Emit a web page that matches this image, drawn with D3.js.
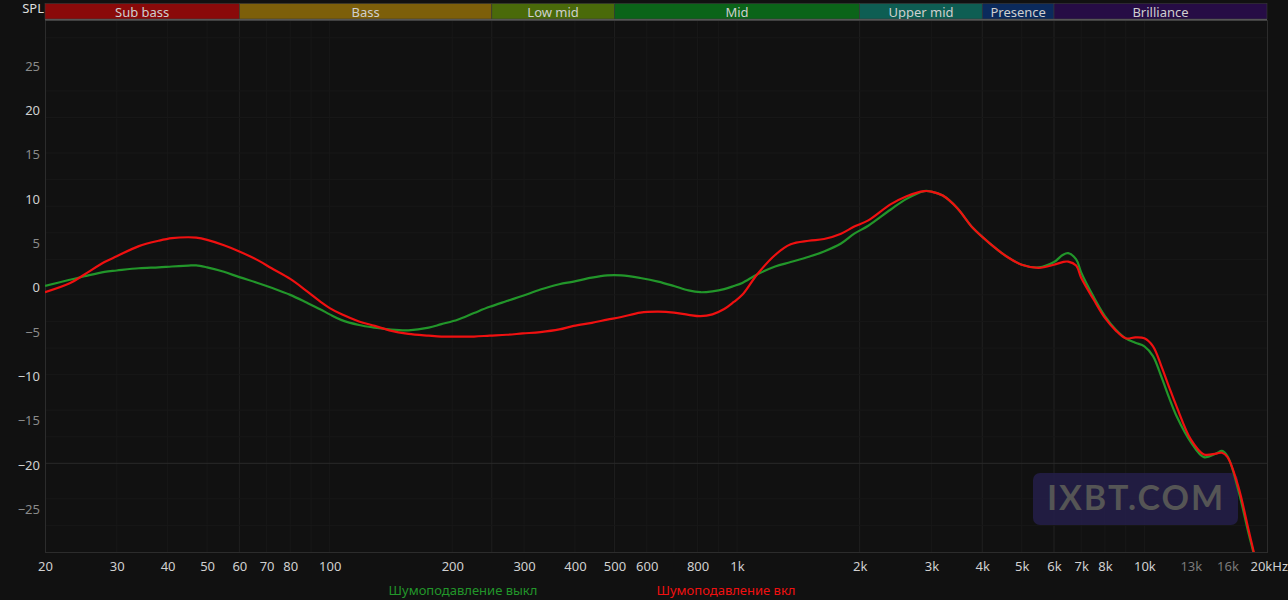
<!DOCTYPE html>
<html>
<head>
<meta charset="utf-8">
<script src="https://cdn.jsdelivr.net/npm/d3@7"></script>
<style>
  html, body { margin: 0; padding: 0; background: #111111; }
  svg { display: block; font-family: "Noto Sans", "Open Sans", sans-serif; }
</style>
</head>
<body>
<script>
// frequency points (Hz) shared by both curves
const freqs = [20, 23, 25, 28, 30, 34, 38, 41, 45, 47, 50, 55, 60, 66, 72, 80, 88, 95, 100, 107,
  118, 129, 140, 156, 175, 188, 206, 226, 247, 272, 298, 329, 366, 397, 440, 480, 520, 579,
  640, 700, 760, 813, 870, 930, 982, 1030, 1120, 1240, 1354, 1500, 1635, 1800, 1940, 2100,
  2380, 2600, 2880, 3000, 3200, 3470, 3800, 4200, 4600, 5000, 5500, 6000, 6300, 6500, 6800,
  7000, 7500, 8000, 8500, 9000, 9500, 10000, 10500, 11000, 11500, 12000, 13000, 14000,
  15000, 15500, 16000, 17000, 18000, 19000, 20000];

// ANC off (green)
const ancOff = [0.0, 0.7, 1.1, 1.6, 1.75, 2.0, 2.1, 2.2, 2.3, 2.33, 2.1, 1.6, 1.0, 0.4, -0.2, -1.0,
  -1.9, -2.65, -3.2, -3.85, -4.4, -4.7, -4.9, -5.0, -4.7, -4.3, -3.8, -3.05, -2.35, -1.7, -1.1,
  -0.4, 0.2, 0.5, 0.95, 1.2, 1.2, 0.9, 0.5, 0.0, -0.5, -0.7, -0.6, -0.35, 0.0, 0.35, 1.3, 2.2,
  2.7, 3.3, 3.9, 4.8, 5.9, 6.8, 8.6, 9.8, 10.7, 10.65, 10.2, 8.8, 6.5, 4.7, 3.3, 2.4, 2.1, 2.7,
  3.5, 3.7, 3.0, 1.5, -1.2, -3.4, -4.9, -5.9, -6.4, -6.8, -7.9, -10.2, -12.6, -14.7, -17.6,
  -19.3, -18.9, -18.6, -19.2, -23.0, -27.8, -32, -36];

// ANC on (red)
const ancOn = [-0.7, 0.3, 1.3, 2.7, 3.35, 4.5, 5.1, 5.4, 5.5, 5.45, 5.2, 4.6, 3.9, 3.0, 2.0, 0.8,
  -0.6, -1.8, -2.5, -3.2, -4.0, -4.5, -5.0, -5.4, -5.6, -5.7, -5.7, -5.7, -5.6, -5.5, -5.35,
  -5.2, -4.9, -4.5, -4.15, -3.8, -3.5, -3.0, -2.9, -3.0, -3.25, -3.4, -3.2, -2.6, -1.8, -1.0,
  1.3, 3.5, 4.7, 5.1, 5.3, 5.9, 6.7, 7.4, 9.2, 10.1, 10.7, 10.65, 10.2, 8.8, 6.5, 4.7, 3.3,
  2.4, 2.05, 2.4, 2.7, 2.75, 2.3, 0.9, -1.5, -3.6, -5.0, -5.9, -5.8, -5.9, -6.8, -9.0, -11.4,
  -13.6, -17.3, -19.0, -18.9, -18.8, -19.3, -22.6, -27.4, -32, -36];

const seriesNames = ["Шумоподавление выкл", "Шумоподавление вкл"];
const seriesColors = ["#22962a", "#f01010"];

// frequency bands on top
const bandNames = ["Sub bass", "Bass", "Low mid", "Mid", "Upper mid", "Presence", "Brilliance"];
const bandEdges = [20, 60, 250, 500, 2000, 4000, 6000, 20000];
const bandColors = ["#8a0a0a", "#7d5f0a", "#4a6a0a", "#0b6419", "#0e5e53", "#0b2a5c", "#260c45"];

// axis ticks
const xTicks = [20, 30, 40, 50, 60, 70, 80, 100, 200, 300, 400, 500, 600, 800, 1000, 2000, 3000,
  4000, 5000, 6000, 7000, 8000, 10000, 13000, 16000, 20000];
const xTickLabels = ["20", "30", "40", "50", "60", "70", "80", "100", "200", "300", "400", "500",
  "600", "800", "1k", "2k", "3k", "4k", "5k", "6k", "7k", "8k", "10k", "13k", "16k", "20kHz"];
const yTicks = [25, 20, 15, 10, 5, 0, -5, -10, -15, -20, -25];
const yGrid = [28, 22, 19, 15, 12, 9, 6, 3, -1, -4, -7, -10, -14, -17, -24, -27];

function main() {
  const width = 1288, height = 600;
  const left = 45, right = 1267, top = 20, bottom = 552;

  const svg = d3.select("body").append("svg")
    .attr("width", width)
    .attr("height", height);

  svg.append("rect").attr("width", width).attr("height", height).attr("fill", "#111111");

  const x = d3.scaleLog().domain([20, 20000]).range([left, right]);
  const y = d3.scaleLinear().domain([-30, 30]).range([bottom, top]);

  // grid
  const minor = [];
  [10, 100, 1000, 10000].forEach(d => {
    for (let k = 1; k < 10; k++) {
      const f = d * k;
      if (f > 20 && f < 20000) minor.push(f);
    }
  });
  svg.append("g").selectAll("line")
    .data(minor)
    .join("line")
    .attr("x1", d => x(d)).attr("x2", d => x(d))
    .attr("y1", top).attr("y2", bottom)
    .attr("stroke", "#181818")
    .attr("stroke-width", 1);

  svg.append("g").selectAll("line")
    .data(bandEdges.slice(1, -1))
    .join("line")
    .attr("x1", d => x(d)).attr("x2", d => x(d))
    .attr("y1", top).attr("y2", bottom)
    .attr("stroke", "#1f1f1f");

  svg.append("g").selectAll("line")
    .data(yGrid)
    .join("line")
    .attr("x1", left).attr("x2", right)
    .attr("y1", d => y(d)).attr("y2", d => y(d))
    .attr("stroke", "#181818");

  svg.append("line")
    .attr("x1", left).attr("x2", right)
    .attr("y1", y(-20)).attr("y2", y(-20))
    .attr("stroke", "#2a2a2a");

  // plot frame
  svg.append("rect")
    .attr("x", left + 0.5).attr("y", top + 0.5)
    .attr("width", right - left).attr("height", bottom - top)
    .attr("fill", "none")
    .attr("stroke", "#2c2c2c");

  // bands header
  const band = svg.append("g").selectAll("g")
    .data(bandNames)
    .join("g");
  band.append("rect")
    .attr("x", (d, i) => x(bandEdges[i]))
    .attr("y", 3.5)
    .attr("width", (d, i) => x(bandEdges[i + 1]) - x(bandEdges[i]))
    .attr("height", 15.5)
    .attr("fill", (d, i) => bandColors[i])
    .attr("stroke", "#3a3a3a")
    .attr("stroke-width", 0.6);
  band.append("text")
    .attr("x", (d, i) => (x(bandEdges[i]) + x(bandEdges[i + 1])) / 2)
    .attr("y", 16.5)
    .attr("text-anchor", "middle")
    .attr("font-size", 13)
    .attr("fill", "#cfcfcf")
    .text(d => d);
  svg.append("line")
    .attr("x1", left).attr("x2", right)
    .attr("y1", 19.8).attr("y2", 19.8)
    .attr("stroke", "#555")
    .attr("stroke-width", 1.5);

  // y axis
  const yAxis = svg.append("g")
    .attr("transform", `translate(${left - 2},0)`)
    .call(d3.axisLeft(y).tickValues(yTicks).tickSize(0).tickFormat(d3.format("d")));
  yAxis.select(".domain").remove();
  yAxis.selectAll("text")
    .attr("font-family", "'Noto Sans', sans-serif")
    .attr("font-size", 13)
    .attr("dy", "0.45em")
    .attr("fill", d => (d % 10 === 0 ? "#d0d0d0" : "#8a8a8a"));

  svg.append("text")
    .attr("x", left - 1).attr("y", 13)
    .attr("text-anchor", "end")
    .attr("font-size", 13)
    .attr("fill", "#dddddd")
    .text("SPL");

  // x axis
  const xAxis = svg.append("g")
    .attr("transform", `translate(0,${bottom})`)
    .call(d3.axisBottom(x).tickValues(xTicks).tickSize(0)
      .tickFormat((d, i) => xTickLabels[i]));
  xAxis.select(".domain").remove();
  xAxis.selectAll("text")
    .attr("font-family", "'Noto Sans', sans-serif")
    .attr("font-size", 13)
    .attr("y", 10)
    .attr("fill", d => (d === 13000 || d === 16000 ? "#7a7a7a" : "#d0d0d0"))
    .attr("text-anchor", d => (d === 20000 ? "start" : "middle"))
    .attr("dx", d => (d === 20000 ? -17 : 0));

  // watermark
  svg.append("rect")
    .attr("x", 1033).attr("y", 473)
    .attr("width", 205).attr("height", 52)
    .attr("rx", 7)
    .attr("fill", "#241e4a")
    .attr("opacity", 0.85);
  svg.append("text")
    .attr("x", 1136).attr("y", 510)
    .attr("text-anchor", "middle")
    .attr("font-family", "Lato, 'Open Sans', sans-serif")
    .attr("font-weight", "bold")
    .attr("font-size", 34)
    .attr("letter-spacing", 2)
    .attr("fill", "#555555")
    .text("IXBT.COM");

  // curves
  svg.append("clipPath").attr("id", "plotClip")
    .append("rect")
    .attr("x", left).attr("y", top)
    .attr("width", right - left).attr("height", bottom - top);

  const line = d3.line()
    .x((d, i) => x(freqs[i]))
    .y(d => y(d))
    .curve(d3.curveCatmullRom.alpha(0.5));

  svg.append("g").attr("clip-path", "url(#plotClip)")
    .selectAll("path")
    .data([ancOff, ancOn])
    .join("path")
    .attr("d", d => line(d))
    .attr("fill", "none")
    .attr("stroke", (d, i) => seriesColors[i])
    .attr("stroke-width", 2.2);

  // legend
  svg.append("g").selectAll("text")
    .data(seriesNames)
    .join("text")
    .attr("x", (d, i) => [463, 726][i])
    .attr("y", 595)
    .attr("text-anchor", "middle")
    .attr("font-size", 13)
    .attr("fill", (d, i) => seriesColors[i])
    .text(d => d);
}
main();
</script>
</body>
</html>
